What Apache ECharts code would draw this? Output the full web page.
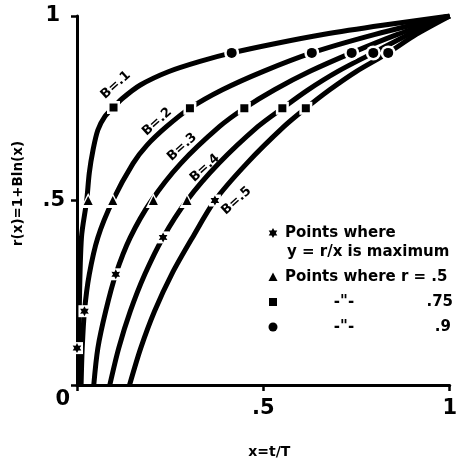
<!DOCTYPE html>
<html>
<head>
<meta charset="utf-8">
<script src="https://cdn.jsdelivr.net/npm/echarts@6/dist/echarts.min.js"></script>
<style>
  html, body { margin: 0; padding: 0; background: #fff; }
  #chart { width: 460px; height: 464px; }
</style>
</head>
<body>
<div id="chart"></div>
<script>
// curves r(x) = 1 + B ln(x) as [x, r]
const curveB1 = [[0.004, 0], [0.006, 0.2], [0.012, 0.4], [0.026, 0.5], [0.033, 0.575], [0.043, 0.637],
  [0.056, 0.691], [0.075, 0.728], [0.098, 0.752], [0.12, 0.775], [0.17, 0.813], [0.245, 0.849],
  [0.33, 0.877], [0.415, 0.9], [0.53, 0.925], [0.66, 0.95], [0.82, 0.975], [1, 1]];
const curveB2 = [[0.011, 0], [0.014, 0.1], [0.02, 0.2], [0.033, 0.3], [0.056, 0.4], [0.096, 0.5],
  [0.15, 0.6], [0.188, 0.65], [0.24, 0.7], [0.303, 0.75], [0.39, 0.8], [0.5, 0.85],
  [0.63, 0.9], [0.8, 0.95], [1, 1]];
const curveB3 = [[0.045, 0], [0.056, 0.1], [0.077, 0.2], [0.104, 0.3], [0.143, 0.4], [0.2, 0.5],
  [0.278, 0.6], [0.382, 0.7], [0.449, 0.75], [0.53, 0.8], [0.625, 0.85], [0.737, 0.9],
  [0.86, 0.95], [1, 1]];
const curveB4 = [[0.088, 0], [0.112, 0.1], [0.143, 0.2], [0.182, 0.3], [0.231, 0.4], [0.295, 0.5],
  [0.38, 0.6], [0.485, 0.7], [0.551, 0.75], [0.62, 0.8], [0.7, 0.85], [0.795, 0.9],
  [0.89, 0.95], [1, 1]];
const curveB5 = [[0.141, 0], [0.171, 0.1], [0.208, 0.2], [0.254, 0.3], [0.31, 0.4], [0.37, 0.5],
  [0.455, 0.6], [0.555, 0.7], [0.614, 0.75], [0.678, 0.8], [0.75, 0.85], [0.835, 0.9],
  [0.91, 0.95], [1, 1]];
const curveNames = ['B=.1', 'B=.2', 'B=.3', 'B=.4', 'B=.5'];
// where each B= label sits, in data units
const labelAnchors = [[0.104, 0.813], [0.215, 0.713], [0.282, 0.645], [0.343, 0.588], [0.428, 0.499]];

// marked points
const maxPoints = [[0, 0.1], [0.02, 0.2], [0.104, 0.3], [0.231, 0.4], [0.37, 0.5]];
const halfPoints = [[0.03, 0.5], [0.096, 0.5], [0.205, 0.5], [0.295, 0.5]];
const p75Points = [[0.098, 0.752], [0.303, 0.75], [0.449, 0.75], [0.551, 0.75], [0.614, 0.75]];
const p90Points = [[0.415, 0.9], [0.63, 0.9], [0.737, 0.9], [0.795, 0.9], [0.835, 0.9]];

const tickLabels = { 0: '0', 0.5: '.5', 1: '1' };

const FONT = 'DejaVu Sans';
const starPath = 'path://M10 0L12.75 5.24L18.66 5L15.5 10L18.66 15L12.75 14.76L10 20L7.25 14.76L1.34 15L4.5 10L1.34 5L7.25 5.24Z';

const chart = echarts.init(document.getElementById('chart'));

const lineSeries = [curveB1, curveB2, curveB3, curveB4, curveB5].map((d, i) => ({
  type: 'line',
  name: curveNames[i],
  data: d,
  showSymbol: false,
  smooth: 0.3,
  lineStyle: { color: '#000', width: 5 },
  z: 2,
  silent: true
}));

// every marker sits in a small white gap cut out of its curve
function markSeries(data, symbol, size, haloSymbol, haloSize) {
  return [{
    type: 'scatter', data: data, symbol: haloSymbol, symbolSize: haloSize, clip: false,
    itemStyle: { color: '#fff', opacity: 1 }, z: 3, silent: true
  }, {
    type: 'scatter', data: data, symbol: symbol, symbolSize: size, symbolKeepAspect: true, clip: false,
    itemStyle: { color: '#000', opacity: 1 }, z: 4, silent: true
  }];
}

const tickFont = { fontFamily: FONT, fontWeight: 'bold', fontSize: 21, color: '#000' };
const legendFont = 'bold 15px "' + FONT + '"';

chart.setOption({
  animation: false,
  grid: { left: 77, right: 8, top: 16, bottom: 79 },
  xAxis: {
    type: 'value', min: 0, max: 1, interval: 0.5,
    name: 'x=t/T', nameLocation: 'middle', nameGap: 60,
    nameTextStyle: { fontFamily: FONT, fontWeight: 'bold', fontSize: 14, color: '#000', padding: [0, 0, 0, 12] },
    axisLine: { lineStyle: { color: '#000', width: 3 } },
    axisTick: { length: 6, lineStyle: { color: '#000', width: 2.5 } },
    axisLabel: Object.assign({ margin: 13, formatter: v => (v === 0 ? '' : tickLabels[v]) }, tickFont),
    splitLine: { show: false }
  },
  yAxis: {
    type: 'value', min: 0, max: 1, interval: 0.5,
    name: 'r(x)=1+Bln(x)', nameLocation: 'middle', nameGap: 52, nameRotate: 90,
    nameTextStyle: { fontFamily: FONT, fontWeight: 'bold', fontSize: 13.5, color: '#000', padding: [0, 0, 0, 14] },
    axisLine: { lineStyle: { color: '#000', width: 3 } },
    axisTick: { length: 6, lineStyle: { color: '#000', width: 2.5 } },
    axisLabel: Object.assign({
      margin: 7,
      formatter: v => (v === 0 ? '{zero|0}' : v === 0.5 ? '{half|.5}' : '{one|1}'),
      rich: {
        zero: Object.assign({ padding: [30, 0, 0, 0] }, tickFont),
        half: Object.assign({ padding: [0, 5, 0, 0] }, tickFont),
        one: Object.assign({ padding: [0, 10, 0, 0] }, tickFont)
      }
    }, tickFont),
    splitLine: { show: false }
  },
  series: lineSeries.concat(
    markSeries(maxPoints, starPath, 10, 'rect', 12),
    markSeries(halfPoints, 'triangle', 9, 'triangle', 15),
    markSeries(p75Points, 'rect', 8, 'rect', 13),
    markSeries(p90Points, 'circle', 10, 'circle', 15),
    [{
      type: 'scatter',
      data: labelAnchors.map((p, i) => ({ value: p, name: curveNames[i] })),
      symbolSize: 0,
      clip: false,
      silent: true,
      z: 5,
      itemStyle: { opacity: 1 },
      label: {
        show: true, position: 'inside', formatter: '{b}', rotate: 42,
        fontFamily: FONT, fontWeight: 'bold', fontSize: 13, color: '#000'
      }
    }]
  ),
  graphic: [
    { type: 'polygon', shape: { points: [[273, 228], [274.4, 230.6], [277.3, 230.5], [275.8, 233], [277.3, 235.5],
      [274.4, 235.4], [273, 238], [271.6, 235.4], [268.7, 235.5], [270.2, 233], [268.7, 230.5], [271.6, 230.6]] },
      style: { fill: '#000' } },
    { type: 'text', x: 285, y: 233, style: { text: 'Points where', font: legendFont, fill: '#000', verticalAlign: 'middle' } },
    { type: 'text', x: 287, y: 252, style: { text: 'y = r/x is maximum', font: legendFont, fill: '#000', verticalAlign: 'middle' } },
    { type: 'polygon', shape: { points: [[273, 272.5], [277.5, 281], [268.5, 281]] }, style: { fill: '#000' } },
    { type: 'text', x: 285, y: 277, style: { text: 'Points where r = .5', font: legendFont, fill: '#000', verticalAlign: 'middle' } },
    { type: 'rect', shape: { x: 269, y: 298, width: 8, height: 8 }, style: { fill: '#000' } },
    { type: 'text', x: 344, y: 302, style: { text: '-"-', font: legendFont, fill: '#000', align: 'center', verticalAlign: 'middle' } },
    { type: 'text', x: 453, y: 302, style: { text: '.75', font: legendFont, fill: '#000', align: 'right', verticalAlign: 'middle' } },
    { type: 'circle', shape: { cx: 273, cy: 327, r: 4.5 }, style: { fill: '#000' } },
    { type: 'text', x: 344, y: 327, style: { text: '-"-', font: legendFont, fill: '#000', align: 'center', verticalAlign: 'middle' } },
    { type: 'text', x: 451, y: 327, style: { text: '.9', font: legendFont, fill: '#000', align: 'right', verticalAlign: 'middle' } }
  ]
});
</script>
</body>
</html>
